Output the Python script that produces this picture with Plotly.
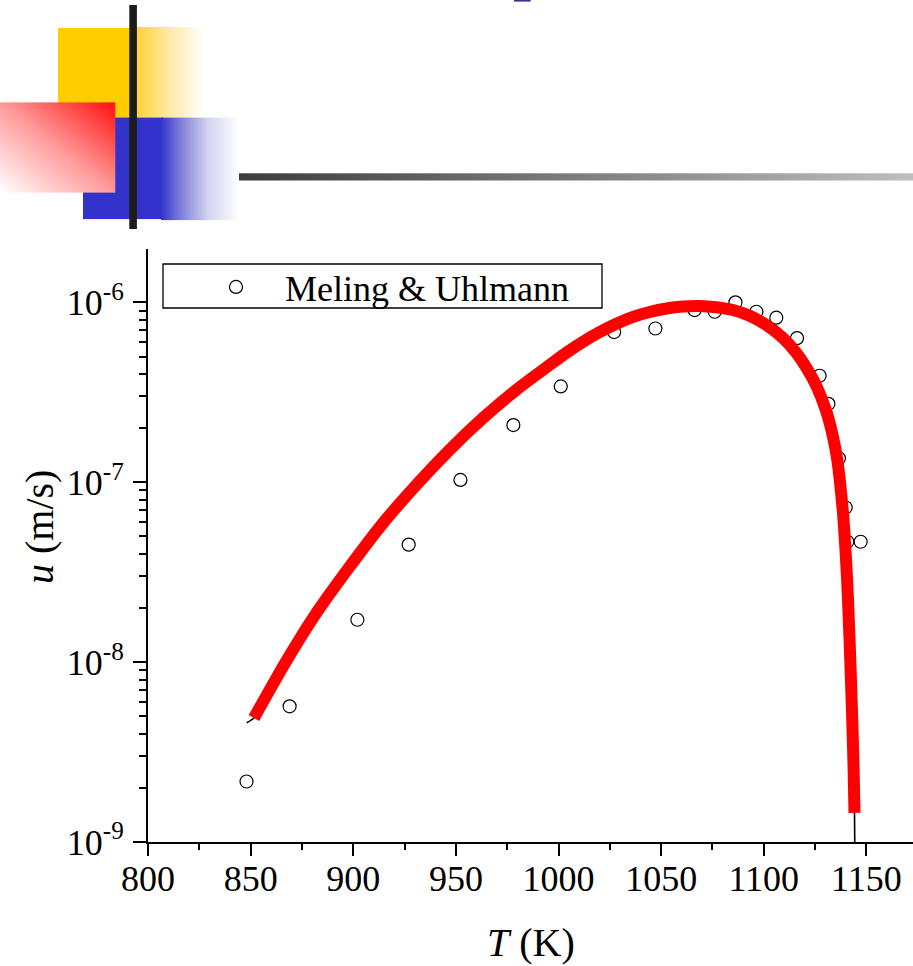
import base64
import plotly.graph_objects as go

# ---------------- data ----------------
# Meling & Uhlmann measurements (T in K, u in m/s)
exp_T = [848.0, 869.0, 902.0, 927.0, 952.2, 978.0, 1001.1, 1027.1, 1047.2, 1066.3,
         1076.1, 1086.2, 1096.4, 1106.1, 1116.2, 1127.2, 1131.5, 1136.6, 1139.9, 1140.7, 1147.2]
exp_u = [2.17e-9, 5.68e-9, 1.72e-8, 4.50e-8, 1.03e-7, 2.08e-7, 3.41e-7, 6.84e-7, 7.16e-7, 9.06e-7,
         8.87e-7, 1.00e-6, 8.87e-7, 8.22e-7, 6.33e-7, 3.91e-7, 2.73e-7, 1.36e-7, 7.24e-8, 4.67e-8, 4.67e-8]

# model curve (thick red)
fit_T = [851.6, 865.8, 882.0, 898.3, 914.5, 930.8, 947.0, 963.2, 979.5, 995.8,
         1003.8, 1011.9, 1020.1, 1028.2, 1036.3, 1044.4, 1052.6, 1060.6, 1068.8, 1076.9,
         1085.0, 1093.1, 1101.3, 1109.4, 1115.9, 1120.8, 1125.6, 1130.5, 1133.7, 1135.8,
         1137.0, 1138.6, 1139.7, 1140.6, 1141.3, 1142.2, 1143.0, 1143.7, 1144.2]
fit_u = [4.89e-9, 9.46e-9, 1.875e-8, 3.40e-8, 5.93e-8, 9.68e-8, 1.517e-7, 2.275e-7, 3.27e-7, 4.50e-7,
         5.25e-7, 6.04e-7, 6.84e-7, 7.61e-7, 8.30e-7, 8.84e-7, 9.25e-7, 9.49e-7, 9.55e-7, 9.40e-7,
         9.07e-7, 8.42e-7, 7.48e-7, 6.32e-7, 5.23e-7, 4.33e-7, 3.44e-7, 2.467e-7, 1.791e-7, 1.335e-7,
         1.033e-7, 6.75e-8, 4.40e-8, 2.87e-8, 1.876e-8, 9.89e-9, 5.21e-9, 2.75e-9, 1.45e-9]

# thin black model line extends slightly beyond the red one at both ends
line_start_T, line_start_u = 848.1, 4.6e-9
line_end_T, line_end_u = 1144.5, 6.0e-10
model_T = [line_start_T] + fit_T + [line_end_T]
model_u = [line_start_u] + fit_u + [line_end_u]

x_ticks = [800, 850, 900, 950, 1000, 1050, 1100, 1150]
y_tickvals = [1e-9, 1e-8, 1e-7, 1e-6]
y_ticktext = ["10<sup>-9</sup>", "10<sup>-8</sup>", "10<sup>-7</sup>", "10<sup>-6</sup>"]
legend_name = "Meling & Uhlmann"

# ---------------- layout geometry ----------------
W, H = 913, 966
ML, MR, MT, MB = 148, 0, 249, 124
PW, PH = W - ML - MR, H - MT - MB
PX_PER_K = 2.0526
PX_PER_DEC = 179.87
x_range = [800, 800 + PW / PX_PER_K]
y_range = [-9, -9 + PH / PX_PER_DEC]


def px(xp):
    return (xp - ML) / PW


def py(yp):
    return (H - MB - yp) / PH


FONT = "Liberation Serif, Times New Roman, serif"

fig = go.Figure()
fig.add_trace(go.Scatter(
    x=exp_T, y=exp_u, mode="markers", name=legend_name,
    marker=dict(symbol="circle-open", size=13, color="black", line=dict(width=1.2, color="black")),
    showlegend=True))
fig.add_trace(go.Scatter(
    x=model_T, y=model_u, mode="lines", line=dict(color="black", width=1.6, shape="spline", smoothing=0.5),
    showlegend=False))
fig.add_trace(go.Scatter(
    x=fit_T, y=fit_u, mode="lines", line=dict(color="#ff0000", width=12, shape="spline", smoothing=0.5),
    showlegend=False))

minor_y = [k * 10.0 ** e for e in range(-9, -5) for k in range(2, 10)]

fig.update_xaxes(
    range=x_range, tickmode="array", tickvals=x_ticks, ticktext=[str(v) for v in x_ticks],
    ticks="outside", ticklen=12, tickwidth=2, tickcolor="black",
    showline=True, linecolor="black", linewidth=2, showgrid=False, zeroline=False,
    minor=dict(tickvals=[825 + 50 * i for i in range(8)], ticks="outside", ticklen=6,
               tickwidth=2, tickcolor="black", showgrid=False),
    tickfont=dict(family=FONT, size=36, color="black"), ticklabelstandoff=-8)
fig.update_yaxes(
    type="log", range=y_range, tickmode="array", tickvals=y_tickvals, ticktext=y_ticktext,
    ticks="outside", ticklen=13, tickwidth=2, tickcolor="black",
    showline=True, linecolor="black", linewidth=2, showgrid=False, zeroline=False,
    minor=dict(tickvals=minor_y, ticks="outside", ticklen=7, tickwidth=2, tickcolor="black",
               showgrid=False),
    tickfont=dict(family=FONT, size=36, color="black"), ticklabelstandoff=2)

# header decoration as an svg image
svg = '''<svg xmlns="http://www.w3.org/2000/svg" width="913" height="230" viewBox="0 0 913 230">
<defs>
<linearGradient id="gy" x1="0" y1="0" x2="1" y2="0"><stop offset="0" stop-color="#FFCF2A"/><stop offset="0.5" stop-color="#FFE9A6"/><stop offset="1" stop-color="#FFFFFF"/></linearGradient>
<linearGradient id="gb" x1="0" y1="0" x2="1" y2="0"><stop offset="0" stop-color="#3333CC"/><stop offset="0.25" stop-color="#7E7EDA"/><stop offset="0.6" stop-color="#D2D2F1"/><stop offset="1" stop-color="#FFFFFF"/></linearGradient>
<linearGradient id="gr" x1="1" y1="0" x2="0" y2="1"><stop offset="0" stop-color="#FF1010"/><stop offset="0.5" stop-color="#FF9A9A"/><stop offset="1" stop-color="#FFFFFF"/></linearGradient>
<linearGradient id="gg" x1="0" y1="0" x2="1" y2="0"><stop offset="0" stop-color="#3C3C3C"/><stop offset="1" stop-color="#BEBEBE"/></linearGradient>
</defs>
<rect x="58" y="28" width="75" height="90" fill="#FFCC00"/>
<rect x="133" y="27" width="72" height="91" fill="url(#gy)"/>
<rect x="83" y="117.6" width="80" height="101.5" fill="#3333CC"/>
<rect x="161" y="117.6" width="78" height="102.5" fill="url(#gb)"/>
<rect x="0" y="102.4" width="115.3" height="90.2" fill="url(#gr)"/>
<rect x="239" y="173.3" width="674" height="7.2" fill="url(#gg)"/>
<rect x="129.3" y="5" width="7.6" height="224" fill="#1C1C1C"/>
<rect x="514" y="0" width="16.6" height="1.6" fill="#333399"/>
</svg>'''
src = "data:image/svg+xml;base64," + base64.b64encode(svg.encode()).decode()
fig.add_layout_image(dict(source=src, xref="paper", yref="paper", x=px(0), y=py(0),
                          sizex=W / PW, sizey=230 / PH, xanchor="left", yanchor="top",
                          sizing="stretch", layer="above"))

# legend frame
fig.add_shape(type="rect", xref="paper", yref="paper", x0=px(163), x1=px(602), y0=py(308), y1=py(264),
              line=dict(color="black", width=1.3), fillcolor="rgba(0,0,0,0)")

fig.update_layout(
    width=W, height=H, margin=dict(l=ML, r=MR, t=MT, b=MB, autoexpand=False),
    paper_bgcolor="white", plot_bgcolor="white",
    font=dict(family=FONT, color="black"),
    showlegend=True,
    legend=dict(x=px(187), y=py(287), xanchor="left", yanchor="middle", bgcolor="rgba(0,0,0,0)",
                borderwidth=0, itemwidth=88, font=dict(family=FONT, size=36, color="black")),
    annotations=[
        dict(text="<i>T</i> (K)", xref="paper", yref="paper", x=0.5, y=py(942),
             xanchor="center", yanchor="middle", showarrow=False,
             font=dict(family=FONT, size=40, color="black")),
        dict(text="<i>u</i> (m/s)", xref="paper", yref="paper", x=px(39), y=py(527),
             xanchor="center", yanchor="middle", showarrow=False, textangle=-90,
             font=dict(family=FONT, size=40, color="black")),
    ],
)

fig.write_html("out.html", config={"displayModeBar": False},
               post_script="document.body.style.margin='0';document.body.style.overflow='hidden';")
